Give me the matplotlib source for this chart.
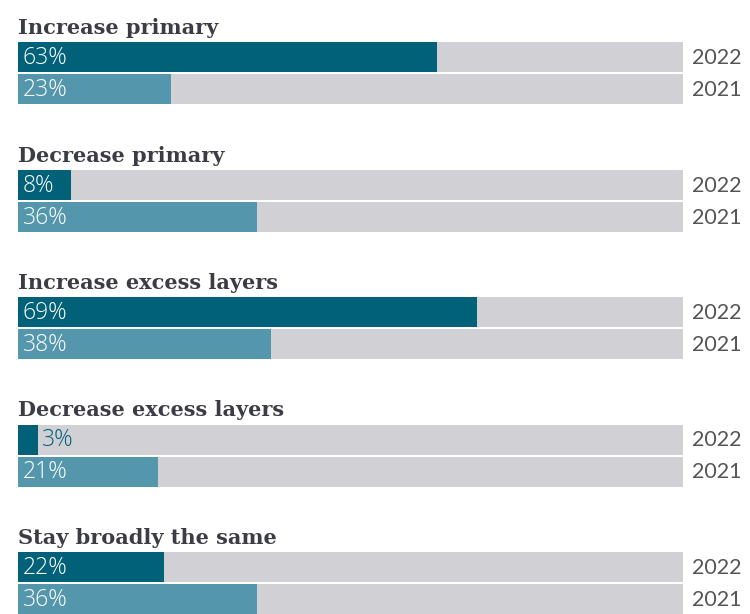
import matplotlib
matplotlib.use("Agg")
import matplotlib.pyplot as plt

categories = ["Increase primary", "Decrease primary", "Increase excess layers",
              "Decrease excess layers", "Stay broadly the same"]
values_2022 = [63, 8, 69, 3, 22]
values_2021 = [23, 36, 38, 21, 36]
years = ["2022", "2021"]

c2022 = "#006179"
c2021 = "#5497ad"
cbg = "#d1d0d5"
ctitle = "#3c3c44"
cyear = "#555555"

fig = plt.figure(figsize=(7.5, 6.14), dpi=100)
ax = fig.add_axes([18 / 750, 0, 665 / 750, 1])
ax.set_xlim(0, 100)
ax.set_ylim(614, 0)
ax.axis("off")

period = 127.5
bh = 30
for i, cat in enumerate(categories):
    top = 42 + period * i
    ax.text(0, top - 8, cat, fontsize=15, fontweight="bold", family="DejaVu Serif",
            color=ctitle, va="baseline", ha="left")
    for j, (vals, col) in enumerate([(values_2022, c2022), (values_2021, c2021)]):
        y = top + j * 32 + bh / 2
        ax.barh(y, 100, height=bh, color=cbg, left=0)
        ax.barh(y, vals[i], height=bh, color=col, left=0)
        lab = f"{vals[i]}%"
        if vals[i] < 6:
            ax.text(vals[i] + 0.6, y + 1, lab, fontsize=16.5, family="Open Sans",
                    fontweight="light", color=c2022, va="center", ha="left")
        else:
            ax.text(0.7, y + 1, lab, fontsize=16.5, family="Open Sans",
                    fontweight="light", color="white", va="center", ha="left")
        ax.text(101.3, y + 1, years[j], fontsize=15.5, family="Lato", color=cyear,
                va="center", ha="left")

fig.savefig("out.png", dpi=100)
